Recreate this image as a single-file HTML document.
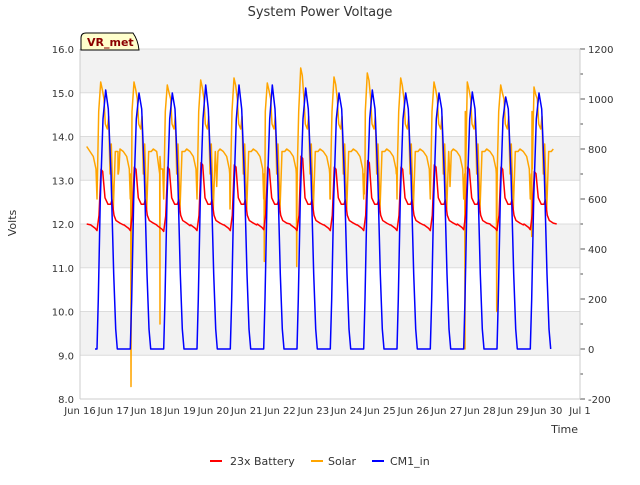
<!DOCTYPE html>
<html><head><meta charset="utf-8"><style>
body{margin:0;background:#fff;font-family:"Liberation Sans","DejaVu Sans",sans-serif;}
svg text{font-family:"DejaVu Sans","Liberation Sans",sans-serif;}
</style></head><body>
<svg id="chart" width="640" height="480" xmlns="http://www.w3.org/2000/svg">
<g id="bg"></g><g id="grid"></g><g id="series"></g><g id="axes"></g>
<text x="320" y="16" text-anchor="middle" font-size="13" fill="#333">System Power Voltage</text>
<text x="16" y="223" text-anchor="middle" font-size="11" fill="#333" transform="rotate(-90 16 223)">Volts</text>
<text x="578" y="433" text-anchor="end" font-size="11" fill="#333">Time</text>
<g>
<path d="M81,50 L81,38 Q81,33 86,33 L133,33 Q138,40 139,50 Z" fill="#ffffcc" stroke="#000" stroke-width="1"/>
<text x="87" y="46" font-size="11" font-weight="bold" fill="#8b0000">VR_met</text></g>
<g>
<g><line x1="210" y1="461" x2="222" y2="461" stroke="#ff0000" stroke-width="2"/><text x="230" y="465" font-size="11" fill="#333">23x Battery</text></g>
<g><line x1="311" y1="461" x2="323" y2="461" stroke="#ffa500" stroke-width="2"/><text x="328" y="465" font-size="11" fill="#333">Solar</text></g>
<g><line x1="372" y1="461" x2="384" y2="461" stroke="#0000ff" stroke-width="2"/><text x="390" y="465" font-size="11" fill="#333">CM1_in</text></g>
</g>
</svg>
<script>
// data (days since Jun 16 00:00)
const dayIndex=[0,1,2,3,4,5,6,7,8,9,10,11,12,13];
const cm1Peak=[1036,1024,1024,1056,1056,1056,1044,1024,1036,1024,1024,1028,1008,1024];
const batPeak=[13.25,13.3,13.3,13.4,13.35,13.3,13.55,13.3,13.45,13.3,13.35,13.3,13.3,13.2];
const batNight=[12.0,12.0,11.98,12.0,12.0,12.02,12.0,12.0,12.0,12.0,12.0,12.02,12.0,12.02];
const solarPeak=[1068,1068,1056,1076,1084,1064,1124,1088,1104,1084,1068,1068,1056,1048];
const solarDip=[700,-150,100,650,560,350,330,600,620,700,650,0,150,450];
const solarDipT=[1.15,1.53,2.4,4.1,4.5,5.53,6.5,7.5,8.53,9.5,11.1,11.55,12.5,13.55];
const leftTicks=["8.0","9.0","10.0","11.0","12.0","13.0","14.0","15.0","16.0"];
const rightTicks=["-200","0","200","400","600","800","1000","1200"];
const xLabels=["Jun 16","Jun 17","Jun 18","Jun 19","Jun 20","Jun 21","Jun 22","Jun 23","Jun 24","Jun 25","Jun 26","Jun 27","Jun 28","Jun 29","Jun 30","Jul 1"];

const X0=80,X1=580,Y0=49,Y1=399;
const xs=t=>X0+t*(X1-X0)/15;
const yL=v=>399-(v-8)*43.75;
const yR=v=>349-v*0.25;
const NS="http://www.w3.org/2000/svg";
function mk(tag,attrs,parent){const e=document.createElementNS(NS,tag);for(const k in attrs)e.setAttribute(k,attrs[k]);parent.appendChild(e);return e;}
const bg=document.getElementById('bg'),grid=document.getElementById('grid'),axes=document.getElementById('axes'),ser=document.getElementById('series');
mk('rect',{x:X0,y:Y0,width:X1-X0,height:Y1-Y0,fill:'#fff'},bg);
for(const b of [9,11,13,15]){const r=mk('rect',{x:X0,y:yL(b+1),width:X1-X0,height:43.75,fill:'#f2f2f2'},bg);

}
leftTicks.forEach(s=>{const v=parseFloat(s),y=yL(v);
mk('line',{x1:X0,x2:X1,y1:y,y2:y,stroke:'#dcdcdc','stroke-width':1},grid);
const t=mk('text',{x:X0-6,y:y+4,'text-anchor':'end','font-size':10,fill:'#333'},axes);t.textContent=s;

});
rightTicks.forEach(s=>{const v=parseFloat(s),y=yR(v);
mk('line',{x1:X1,x2:X1+5,y1:y,y2:y,stroke:'#555'},axes);
if(v<1200)mk('line',{x1:X1,x2:X1+3,y1:yR(v+100),y2:yR(v+100),stroke:'#555'},axes);
const t=mk('text',{x:X1+8,y:y+4,'font-size':10,fill:'#333'},axes);t.textContent=s;

});
xLabels.forEach((s,i)=>{const x=xs(i);
const t=mk('text',{x:x,y:Y1+15,'text-anchor':'middle','font-size':10,fill:'#333'},axes);t.textContent=s;

});
mk('line',{x1:X0,x2:X0,y1:Y0,y2:Y1,stroke:'#ccc'},axes);
mk('line',{x1:X0,x2:X1,y1:Y1,y2:Y1,stroke:'#ccc'},axes);
mk('line',{x1:X1,x2:X1,y1:Y0,y2:Y1,stroke:'#ccc'},axes);

function path(pts,yf,color,name){let d='';pts.forEach((p,i)=>{d+=(i?'L':'M')+xs(p[0]).toFixed(1)+','+yf(p[1]).toFixed(1);});
const e=mk('path',{d:d,fill:'none',stroke:color,'stroke-width':1.5,'stroke-linejoin':'round'},ser);

}

const S=0.2; // local-time phase of the daily cycle
let bat=[[0.2,12.0]];
dayIndex.forEach(d=>{const n=batNight[d],p=batPeak[d];
bat.push([d+S+0.12,n-0.02],[d+S+0.26,n-0.1],[d+S+0.31,n-0.15],[d+S+0.37,n+0.2],[d+S+0.43,p],[d+S+0.48,p-0.05],[d+S+0.55,12.6],[d+S+0.64,12.45],[d+S+0.72,12.45],[d+S+0.76,12.55],[d+S+0.82,12.2],[d+S+0.88,12.08],[d+S+1.0,12.02],[d+S+1.1,n-0.02]);});
bat=bat.filter(p=>p[0]<=14.3);
let sol=[[0.2,810]];
dayIndex.forEach(d=>{const p=solarPeak[d];
sol.push([d+S+0.1,790],[d+S+0.2,770],[d+S+0.28,720],[d+S+0.31,600],[d+S+0.36,950],[d+S+0.42,p],[d+S+0.47,p-30],[d+S+0.52,1000],[d+S+0.56,900],[d+S+0.62,880],[d+S+0.66,930],[d+S+0.7,700],[d+S+0.74,820],[d+S+0.8,560],[d+S+0.86,790],[d+S+0.94,790],[d+S+1.0,800]);
});
dayIndex.forEach(d=>{sol.push([solarDipT[d]-0.01,700],[solarDipT[d],solarDip[d]],[solarDipT[d]+0.02,720]);});
sol.sort((a,b)=>a[0]-b[0]);sol=sol.filter(p=>p[0]<=14.3);
let cm=[[0.45,0]];
dayIndex.forEach(d=>{const p=cm1Peak[d];
cm.push([d+S+0.31,0],[d+S+0.35,200],[d+S+0.41,600],[d+S+0.49,920],[d+S+0.57,p],[d+S+0.65,960],[d+S+0.73,700],[d+S+0.81,300],[d+S+0.87,80],[d+S+0.92,0],[d+S+1.3,0]);});
cm=cm.filter(p=>p[0]<=14.3);
path(sol,yR,'#ffa500','solar-line');
path(bat,yL,'#ff0000','battery-line');
path(cm,yR,'#0000ff','cm1-line');
</script>
</body></html>
